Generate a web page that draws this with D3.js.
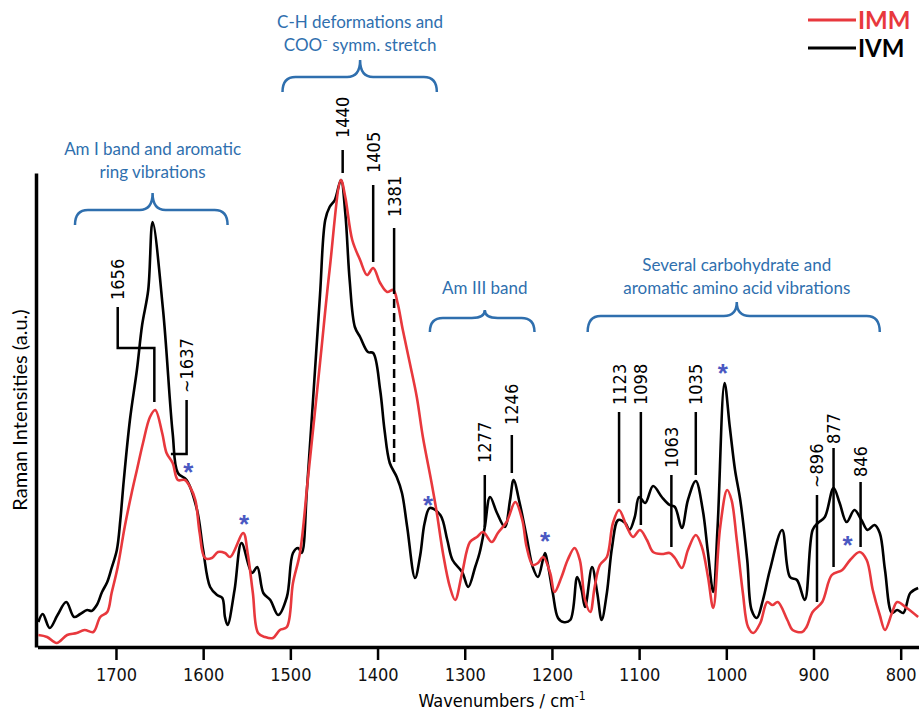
<!DOCTYPE html>
<html>
<head>
<meta charset="utf-8">
<script src="https://cdn.jsdelivr.net/npm/d3@7"></script>
<style>
  body { margin: 0; background: #fff; }
  .tick text { font-family: "Liberation Sans Narrow", "DejaVu Sans Condensed", "Arial Narrow", sans-serif; }
</style>
</head>
<body>
<div id="chart"></div>
<script>
// Raman spectra, [wavenumber (cm-1), intensity (a.u.)]
const ivmSpectrum = [
  [1789,25],[1784,33],[1776,19],[1767,32],[1757,45],[1748,30],[1741,33],[1733,37],[1728,36],[1722,42],
  [1716,55],[1710,65],[1705,79],[1699,97],[1695,127],[1691,167],[1684,227],[1676,277],[1670,322],[1663,357],
  [1658,425],[1646,337],[1635,214],[1629,174],[1619,167],[1607,137],[1600,97],[1592,60],[1584,52],[1578,49],
  [1575,30],[1572,22],[1564,57],[1556,104],[1544,74],[1538,80],[1531,54],[1523,47],[1514,32],[1504,50],
  [1497,94],[1491,99],[1487,94],[1481,157],[1474,247],[1466,352],[1460,427],[1455,440],[1449,447],[1442,467],
  [1437,434],[1432,367],[1426,320],[1420,310],[1411,295],[1405,294],[1397,257],[1392,217],[1386,184],[1378,170],
  [1372,154],[1366,120],[1357,69],[1351,92],[1346,124],[1340,139],[1328,132],[1320,107],[1314,87],[1303,75],
  [1296,60],[1288,80],[1283,94],[1277,120],[1271,150],[1263,134],[1254,120],[1248,147],[1244,167],[1237,144],
  [1229,110],[1222,80],[1216,70],[1208,94],[1205,84],[1199,54],[1193,29],[1187,25],[1179,27],[1171,70],
  [1166,57],[1162,40],[1154,80],[1148,54],[1143,27],[1137,54],[1131,100],[1124,127],[1116,124],[1111,117],
  [1105,130],[1100,150],[1093,144],[1084,161],[1074,150],[1065,142],[1059,140],[1051,119],[1044,147],[1035,166],
  [1027,137],[1021,94],[1015,55],[1010,120],[1002,264],[996,220],[990,177],[984,147],[976,87],[971,37],
  [965,29],[958,47],[950,77],[936,117],[927,70],[919,67],[910,47],[901,117],[895,124],[887,130],
  [877,159],[870,144],[862,125],[853,137],[845,127],[838,117],[830,122],[824,114],[818,77],[810,34],
  [804,37],[797,34],[789,54],[780,59]
];

const immSpectrum = [
  [1789,12],[1779,10],[1768,4],[1756,12],[1745,14],[1736,17],[1726,15],[1718,30],[1710,35],[1705,54],
  [1698,80],[1690,120],[1682,154],[1676,177],[1669,204],[1661,230],[1655,237],[1647,214],[1642,194],[1635,184],
  [1629,167],[1621,167],[1615,160],[1609,147],[1604,114],[1598,89],[1590,89],[1583,95],[1575,94],[1569,90],
  [1554,114],[1549,94],[1543,54],[1537,14],[1529,10],[1520,9],[1512,17],[1504,20],[1497,64],[1489,94],
  [1480,167],[1466,284],[1455,377],[1442,467],[1437,450],[1429,407],[1420,387],[1412,372],[1405,379],[1397,364],
  [1389,355],[1382,357],[1377,344],[1371,317],[1363,284],[1355,250],[1348,210],[1338,164],[1332,134],[1325,94],
  [1317,60],[1311,47],[1303,74],[1294,105],[1286,110],[1279,115],[1269,105],[1262,114],[1252,125],[1242,145],
  [1234,127],[1229,100],[1222,82],[1216,84],[1210,90],[1202,74],[1197,55],[1189,70],[1182,87],[1174,99],
  [1168,87],[1162,47],[1156,35],[1151,60],[1145,82],[1137,90],[1130,124],[1123,137],[1114,120],[1107,110],
  [1099,117],[1091,107],[1084,95],[1074,93],[1065,94],[1059,89],[1051,79],[1044,97],[1035,112],[1028,100],
  [1021,70],[1015,39],[1007,120],[999,157],[994,147],[988,107],[981,54],[975,20],[969,14],[961,24],
  [953,45],[947,42],[941,45],[930,27],[924,17],[913,15],[908,20],[901,35],[890,45],[879,72],
  [867,77],[858,87],[847,95],[839,87],[832,57],[824,32],[818,17],[810,34],[804,45],[793,39],[780,30]
];

const xTickValues = [1700, 1600, 1500, 1400, 1300, 1200, 1100, 1000, 900, 800];
const seriesNames = ["IMM", "IVM"];
const seriesColors = ["#e8383d", "#000000"];

// band assignments (blue braces)
const bandLabels = [
  ["Am I band and aromatic", "ring vibrations"],
  ["C-H deformations and", "COO\u207B symm. stretch"],
  ["Am III band"],
  ["Several carbohydrate and", "aromatic amino acid vibrations"]
];
const bandSpans = [[1747, 1572, 1658], [1509, 1332, 1420], [1340, 1220, 1277], [1159, 824, 988]];

// peak markers
const peakLabels = ["1440", "1405", "1381", "1277", "1246", "1123", "1098", "1063", "1035", "~896", "877", "846"];
const peakWaves = [1440, 1405, 1381, 1277, 1246, 1123, 1098, 1063, 1035, 896, 877, 846];

// starred bands
const starWaves = [1617, 1553, 1342, 1208, 1004, 861];

// ---------------------------------------------------------------
const width = 919, height = 717;

const svg = d3.select("#chart").append("svg")
  .attr("width", width)
  .attr("height", height)
  .style("background", "#fff");

const x = d3.scaleLinear().domain([1790, 779]).range([37.5, 919]);
const y = d3.scaleLinear().domain([0, 474]).range([647, 173]);

const blue = "#2f6fae";
const textFont = "Lato, 'Open Sans', sans-serif";
const narrowFont = "'Liberation Sans Narrow', 'DejaVu Sans Condensed', 'Arial Narrow', sans-serif";

// axes
const xAxis = d3.axisBottom(x)
  .tickValues(xTickValues)
  .tickFormat(d3.format("d"))
  .tickSize(13)
  .tickSizeOuter(0)
  .tickPadding(8);

const gx = svg.append("g")
  .attr("transform", "translate(0," + y(0) + ")")
  .call(xAxis);
gx.select(".domain").attr("stroke-width", 3.5);
gx.selectAll(".tick line").attr("stroke-width", 2.5);
gx.selectAll(".tick text").attr("font-size", 18).attr("fill", "#111");

const gy = svg.append("g")
  .attr("transform", "translate(36,0)")
  .call(d3.axisLeft(y).tickValues([]).tickSizeOuter(0));
gy.select(".domain").attr("stroke-width", 3.5);

svg.append("text")
  .attr("transform", "translate(20," + (y(0) + y(474)) / 2 + ") rotate(-90)")
  .attr("text-anchor", "middle")
  .attr("dy", "0.35em")
  .attr("font-family", textFont)
  .attr("font-size", 20)
  .text("Raman Intensities (a.u.)");

const xTitle = svg.append("text")
  .attr("x", 502)
  .attr("y", 707)
  .attr("text-anchor", "middle")
  .attr("font-family", narrowFont)
  .attr("font-size", 18);
xTitle.append("tspan").text("Wavenumbers / cm");
xTitle.append("tspan").attr("dy", -7).attr("font-size", 12).text("-1");

// spectra
const line = d3.line()
  .x(d => x(d[0]))
  .y(d => y(d[1]))
  .curve(d3.curveCatmullRom.alpha(0.5));

[ivmSpectrum, immSpectrum].forEach((data, i) => {
  svg.append("path")
    .datum(data)
    .attr("fill", "none")
    .attr("stroke", i === 0 ? seriesColors[1] : seriesColors[0])
    .attr("stroke-width", 2.6)
    .attr("stroke-linejoin", "round")
    .attr("d", line);
});

// legend
const legend = svg.append("g");
seriesNames.forEach((name, i) => {
  const ly = 20 + i * 28;
  legend.append("line")
    .attr("x1", 808).attr("x2", 856)
    .attr("y1", ly).attr("y2", ly)
    .attr("stroke", seriesColors[i])
    .attr("stroke-width", 3);
  legend.append("text")
    .attr("x", 858).attr("y", ly)
    .attr("dy", "0.36em")
    .attr("font-family", textFont)
    .attr("font-weight", "bold")
    .attr("font-size", 24)
    .attr("fill", seriesColors[i])
    .text(name);
});

// band braces
const braceLayout = [
  {ends: 422, bar: 437, tip: 454, text: [492, 469]},
  {ends: 555, bar: 570, tip: 587, text: [619, 596]},
  {ends: 315, bar: 329, tip: 337, text: [353]},
  {ends: 315, bar: 331, tip: 345, text: [376, 353]}
];

function bracePath(x0, x1, xc, yEnd, yBar, yTip) {
  const r = 13;
  return "M" + x0 + "," + yEnd +
    " Q" + x0 + "," + yBar + " " + (x0 + r) + "," + yBar +
    " L" + (xc - r) + "," + yBar +
    " Q" + xc + "," + yBar + " " + xc + "," + yTip +
    " Q" + xc + "," + yBar + " " + (xc + r) + "," + yBar +
    " L" + (x1 - r) + "," + yBar +
    " Q" + x1 + "," + yBar + " " + x1 + "," + yEnd;
}

bandSpans.forEach((span, i) => {
  const lay = braceLayout[i];
  svg.append("path")
    .attr("d", bracePath(x(span[0]), x(span[1]), x(span[2]), y(lay.ends), y(lay.bar), y(lay.tip)))
    .attr("fill", "none")
    .attr("stroke", blue)
    .attr("stroke-width", 2.5);
  bandLabels[i].forEach((t, j) => {
    svg.append("text")
      .attr("x", x(span[2]))
      .attr("y", y(lay.text[j]))
      .attr("text-anchor", "middle")
      .attr("font-family", textFont)
      .attr("font-size", 17)
      .attr("fill", blue)
      .text(t);
  });
});

// peak markers: text bottom, line start, line end (intensity units)
const peakLayout = [
  [509, 497, 474], [474, 462, 385], [430, 419, 362], [184, 172, 120],
  [222, 212, 174], [242, 235, 144], [242, 235, 122], [179, 172, 100],
  [242, 235, 172], [159, 152, 45], [203, 199, 80], [170, 165, 100]
];

function peakText(px, v, label) {
  svg.append("text")
    .attr("transform", "translate(" + px + "," + y(v) + ") rotate(-90)")
    .attr("dy", "0.36em")
    .attr("font-family", narrowFont)
    .attr("font-size", 18)
    .text(label);
}

peakLabels.forEach((label, i) => {
  const lay = peakLayout[i];
  const px = x(peakWaves[i]);
  peakText(px, lay[0], label);
  svg.append("line")
    .attr("x1", px).attr("x2", px)
    .attr("y1", y(lay[1])).attr("y2", y(lay[2]))
    .attr("stroke", "#000").attr("stroke-width", 2.5);
});

// dashed continuation for 1381
svg.append("line")
  .attr("x1", x(1381)).attr("x2", x(1381))
  .attr("y1", y(362)).attr("y2", y(184))
  .attr("stroke", "#000").attr("stroke-width", 2.5)
  .attr("stroke-dasharray", "9,5");

// elbow markers for 1656 and ~1637
peakText(x(1698), 347, "1656");
svg.append("path")
  .attr("d", d3.line()([[x(1698), y(340)], [x(1698), y(299)], [x(1656), y(299)], [x(1656), y(245)]]))
  .attr("fill", "none").attr("stroke", "#000").attr("stroke-width", 2.5);

peakText(x(1619), 254, "~1637");
svg.append("path")
  .attr("d", d3.line()([[x(1619), y(247)], [x(1619), y(193)], [x(1637), y(193)]]))
  .attr("fill", "none").attr("stroke", "#000").attr("stroke-width", 2.5);

// asterisks
const starLevels = [180, 128, 147, 111, 279, 107];
starWaves.forEach((w, i) => {
  svg.append("text")
    .attr("x", x(w))
    .attr("y", y(starLevels[i]))
    .attr("dy", "0.55em")
    .attr("text-anchor", "middle")
    .attr("font-family", "'Liberation Sans', Arial, sans-serif")
    .attr("font-weight", "bold")
    .attr("font-size", 26)
    .attr("fill", "#4a58c2")
    .text("*");
});
</script>
</body>
</html>
